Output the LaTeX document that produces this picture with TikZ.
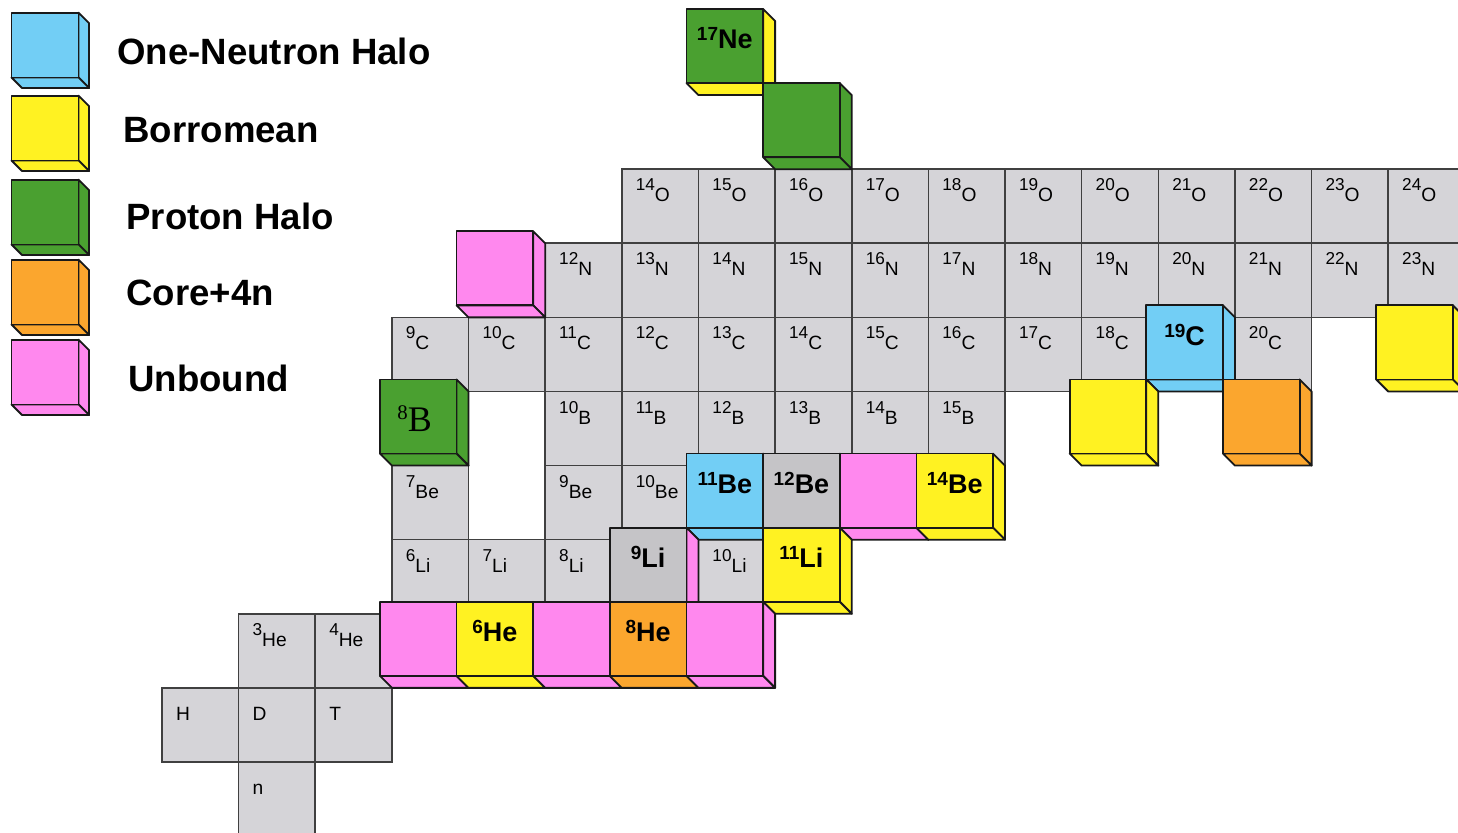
\documentclass[tikz,border=0pt]{standalone}
\usepackage{fontspec}
\setmainfont{Liberation Sans}
\newfontfamily\timesfont{Liberation Serif}

\definecolor{haloblue}{RGB}{114,206,245}
\definecolor{haloyellow}{RGB}{255,242,34}
\definecolor{halogreen}{RGB}{74,160,48}
\definecolor{haloorange}{RGB}{251,166,46}
\definecolor{halopink}{RGB}{255,136,238}
\definecolor{cellgray}{RGB}{213,212,216}
\definecolor{coregray}{RGB}{197,196,199}

% depth of the raised boxes
\newcommand{\cubed}{6pt}

% raised box: #1=N, #2=Z, #3=front colour, #4=side colour
\newcommand{\halobox}[4]{%
  \filldraw[cube, fill=#4] (#1+1,#2+1) ++(-\cubed,\cubed) -- (#1+1,#2+1) -- (#1+1,#2) -- ++(-\cubed,\cubed) -- cycle;
  \filldraw[cube, fill=#4] (#1,#2) ++(-\cubed,\cubed) -- ++(1,0) -- (#1+1,#2) -- (#1,#2) -- cycle;
  \filldraw[cube, fill=#3] (#1,#2) ++(-\cubed,\cubed) rectangle ++(1,1);
}

% flat chart cell: #1=N, #2=Z, #3=mass, #4=element
\newcommand{\isocell}[4]{%
  \draw[cell] (#1,#2) rectangle ++(1,1);
  \node[cell label] (iso-#1-#2) at (#1,#2+1)
    {\fontsize{8.6}{9}\selectfont #3\raisebox{-5.5pt}{\fontsize{9.6}{10}\selectfont #4}};
}

% bold label on a raised box
\newcommand{\halolabel}[4]{%
  \node[halo label] (halo-#1-#2) at (#1+0.5,#2+1)
    {\bfseries\raisebox{4pt}{\fontsize{9.5}{10}\selectfont #3}\fontsize{13.5}{14}\selectfont #4};
}

\begin{document}
\begin{tikzpicture}[
    x=38.32pt, y=37.05pt,
    cell/.style={draw=black!75, fill=cellgray, line width=0.8pt},
    cube/.style={draw=black!90, line width=0.9pt, line join=round},
    cell label/.style={anchor=base west, inner sep=0pt, xshift=6.8pt, yshift=-10.8pt},
    halo label/.style={anchor=base, inner sep=0pt, xshift=-6pt, yshift=-14pt},
    legend text/.style={anchor=base west, inner sep=0pt, font=\fontsize{18.3}{20}\selectfont\bfseries}
  ]

  % Frame
  \path[use as bounding box, clip] (-2.11378,0.04184) rectangle (16.91023,11.28340);

  % Chart cells
  \foreach \z/\el/\nfirst/\nlast in {8/O/6/16, 7/N/5/16, 6/C/3/12, 5/B/5/10} {
    \foreach \n in {\nfirst,...,\nlast} {
      \pgfmathtruncatemacro{\mass}{\n+\z}
      \isocell{\n}{\z}{\mass}{\el}
    }
  }
  \foreach \n/\z/\mass/\el in {14/6/20/C, 3/4/7/Be, 5/4/9/Be, 6/4/10/Be,
      3/3/6/Li, 4/3/7/Li, 5/3/8/Li, 7/3/10/Li, 1/2/3/He, 2/2/4/He,
      0/1//H, 1/1//D, 2/1//T, 1/0//n} {
    \isocell{\n}{\z}{\mass}{\el}
  }

  % Raised boxes
  \foreach \n/\z/\front/\side in {7/10/halogreen/haloyellow, 8/9/halogreen/halogreen,
      4/7/halopink/halopink, 13/6/haloblue/haloblue, 16/6/haloyellow/haloyellow,
      3/5/halogreen/halogreen, 12/5/haloyellow/haloyellow, 14/5/haloorange/haloorange,
      7/4/haloblue/haloblue, 8/4/coregray/coregray, 9/4/halopink/halopink,
      10/4/haloyellow/haloyellow, 6/3/coregray/halopink, 8/3/haloyellow/haloyellow,
      3/2/halopink/halopink, 4/2/haloyellow/haloyellow, 5/2/halopink/halopink,
      6/2/haloorange/haloorange, 7/2/halopink/halopink} {
    \halobox{\n}{\z}{\front}{\side}
  }

  % Labels of raised boxes
  \foreach \n/\z/\mass/\el in {7/10/17/Ne, 13/6/19/C, 7/4/11/Be, 8/4/12/Be, 10/4/14/Be,
      6/3/9/Li, 8/3/11/Li, 4/2/6/He, 6/2/8/He} {
    \halolabel{\n}{\z}{\mass}{\el}
  }
  \node[anchor=base, inner sep=0pt, xshift=-7.8pt, yshift=-1.7pt] (halo-3-5) at (3.5,5.5)
    {\timesfont\raisebox{6pt}{\fontsize{10.4}{11}\selectfont 8}\fontsize{18}{18}\selectfont B};

  % Legend
  \begin{scope}[shift={(-2.11378,11.28340)}, x=0.5pt, y=-0.5pt]
    \foreach \lgy/\col in {88/haloblue, 171/haloyellow, 255/halogreen, 335/haloorange, 415/halopink} {
      \begin{scope}[shift={(22,\lgy)}, x=38.32pt, y=37.05pt, scale=0.875]
        \halobox{0}{0}{\col}{\col}
      \end{scope}
    }
    \node[legend text] (lg-one) at (117,65) {One-Neutron Halo};
    \node[legend text] (lg-bor) at (123,143) {Borromean};
    \node[legend text] (lg-pro) at (126,230) {Proton Halo};
    \node[legend text] (lg-core) at (126,306) {Core+4n};
    \node[legend text] (lg-unb) at (128,392) {Unbound};
  \end{scope}

\end{tikzpicture}
\end{document}
